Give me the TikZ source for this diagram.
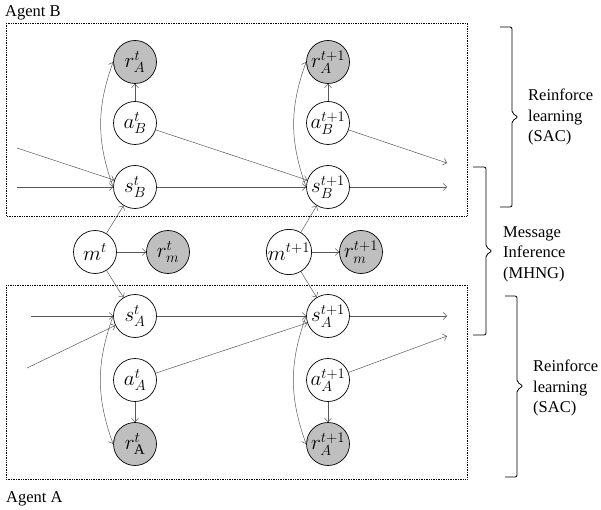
\documentclass[tikz,border=0pt]{standalone}
\usepackage{fix-cm}
\usepackage{fontspec}
\setmainfont{Liberation Serif}
\usetikzlibrary{arrows.meta}
\begin{document}
\begin{tikzpicture}[x=1pt,y=-1pt,>={Straight Barb[length=3.5pt,width=7pt]},
		var/.style={circle,draw,line width=0.7pt,minimum size=43pt,inner sep=0pt,font=\fontsize{21}{23}\selectfont},
		obs/.style={var,fill=gray!50},
		link/.style={->,draw=gray!70!black,line width=0.5pt},
		boxline/.style={densely dotted,line width=0.7pt},
		sidebrace/.style={line width=0.8pt,rounded corners=2pt},
		lbl/.style={align=left,anchor=west,inner sep=0pt,font=\fontsize{16.5}{20.5}\selectfont}]
	\useasboundingbox (0,0) rectangle (601,510);
	% agent frames
	\draw[boxline] (6,23) rectangle (467,216);
	\draw[boxline] (6,285) rectangle (467,479);
	\node[anchor=base west,inner sep=0pt,font=\fontsize{16.5}{20}\selectfont] (agB) at (5,17) {Agent B};
	\node[anchor=base west,inner sep=0pt,font=\fontsize{16.5}{20}\selectfont] (agA) at (6,502) {Agent A};
	% agent B
	\node[obs] (rB1) at (135,62) {$r_A^t$};
	\node[var] (aB1) at (135,123) {$a_B^t$};
	\node[var] (sB1) at (135,187) {$s_B^t$};
	\node[obs] (rB2) at (328,62) {$r_A^{t+1}$};
	\node[var] (aB2) at (328,123) {$a_B^{t+1}$};
	\node[var] (sB2) at (328,187) {$s_B^{t+1}$};
	% messages
	\node[var] (m1) at (95,252) {$m^t$};
	\node[obs] (rm1) at (168,252) {$r_m^t$};
	\node[var] (m2) at (289,252) {$m^{t+1}$};
	\node[obs] (rm2) at (361,252) {$r_m^{t+1}$};
	% agent A
	\node[var] (sA1) at (135,316) {$s_A^t$};
	\node[var] (aA1) at (135,380) {$a_A^t$};
	\node[obs] (rA1) at (135,444) {$r_{\mathrm{A}}^t$};
	\node[var] (sA2) at (328,316) {$s_A^{t+1}$};
	\node[var] (aA2) at (328,380) {$a_A^{t+1}$};
	\node[obs] (rA2) at (328,444) {$r_A^{t+1}$};
	% loose ends
	\coordinate (inB1) at (17,148);
	\coordinate (inB2) at (17,187);
	\coordinate (inA1) at (31,316);
	\coordinate (inA2) at (27,368);
	\coordinate (outB1) at (447,163);
	\coordinate (outB2) at (447,187);
	\coordinate (outA1) at (447,316);
	\coordinate (outA2) at (447,336);
	% arrows in B
	\draw[link] (inB1) -- (sB1);
	\draw[link] (inB2) -- (sB1);
	\draw[link] (sB1) -- (sB2);
	\draw[link] (aB1) -- (sB2);
	\draw[link] (sB2) -- (outB2);
	\draw[link] (aB2) -- (outB1);
	\foreach \i in {1,2} {
		\draw[link] (aB\i) -- (rB\i);
		\draw[link] (sB\i.west) to[out=110,in=250] (rB\i.west);
		\draw[link] (aA\i) -- (rA\i);
		\draw[link] (sA\i.west) to[out=250,in=110] (rA\i.west);
		\draw[link] (m\i) -- (sB\i);
		\draw[link] (m\i) -- (sA\i);
		\draw[link] (m\i) -- (rm\i);
	}
	% arrows in A
	\draw[link] (inA1) -- (sA1);
	\draw[link] (inA2) -- (sA1);
	\draw[link] (sA1) -- (sA2);
	\draw[link] (aA1) -- (sA2);
	\draw[link] (sA2) -- (outA1);
	\draw[link] (aA2) -- (outA2);
	% braces
	\draw[sidebrace] (500,27) -- (512,27) -- (512,113) -- (518,117) -- (512,121) -- (512,207) -- (500,207);
	\draw[sidebrace] (473,167) -- (486,167) -- (486,247) -- (492,251) -- (486,255) -- (486,335) -- (473,335);
	\draw[sidebrace] (505,296) -- (517,296) -- (517,382) -- (523,386) -- (517,390) -- (517,477) -- (505,477);
	\node[lbl] (rlB) at (528,117) {Reinforce\\learning\\(SAC)};
	\node[lbl] (mi) at (503,254) {Message\\Inference\\(MHNG)};
	\node[lbl] (rlA) at (533,388) {Reinforce\\learning\\(SAC)};
\end{tikzpicture}
\end{document}
